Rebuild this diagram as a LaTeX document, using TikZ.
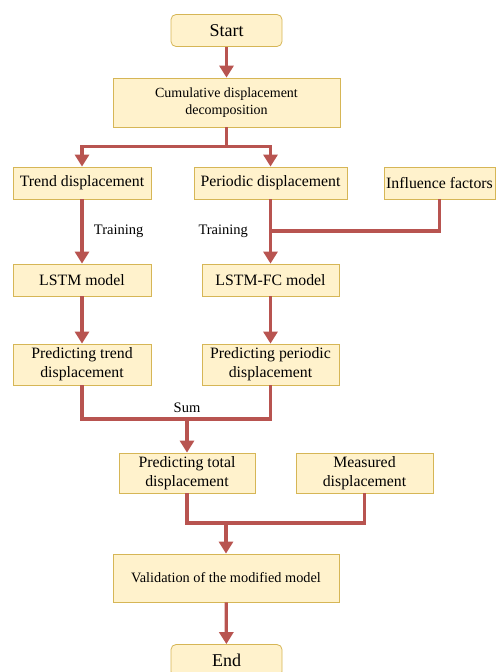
\documentclass[tikz,border=0pt]{standalone}
\usepackage{fontspec}
\setmainfont{Liberation Serif}
\usepackage{tikz}
\usetikzlibrary{arrows.meta, positioning}

\definecolor{boxfill}{HTML}{FFF2CC}
\definecolor{boxline}{HTML}{D6B656}
\definecolor{flowred}{HTML}{B85450}

\begin{document}
\begin{tikzpicture}[
        x=1pt, y=-1pt,
        >={Triangle[length=12pt,width=14pt]},
        every node/.style={font=\fontsize{14.5}{17}\selectfont},
        box/.style={draw=boxline, fill=boxfill, line width=0.8pt, inner sep=0pt, align=center,
            font=\fontsize{15.8}{19}\selectfont},
        term/.style={box, rounded corners=5pt, minimum width=111pt, minimum height=32pt,
            font=\fontsize{18}{20}\selectfont},
        flow/.style={draw=flowred, line width=3.2pt}
    ]
        \useasboundingbox (0,0) rectangle (496,672);

        \node[term] (start) at (226.5,30.5) {Start};
        \node[box, minimum width=227pt, minimum height=49pt, font=\fontsize{14}{17}\selectfont]
            (decomp) at (226.5,102.5) {Cumulative displacement\\decomposition};
        \node[box, minimum width=138pt, minimum height=32pt] (trend) at (82,183) {Trend displacement};
        \node[box, minimum width=153pt, minimum height=32pt] (periodic) at (270.5,183) {Periodic displacement};
        \node[box, minimum width=111pt, minimum height=32pt] (influence) at (439.5,183) {Influence factors};
        \node[box, minimum width=138pt, minimum height=32pt] (lstm) at (82,280) {LSTM model};
        \node[box, minimum width=137pt, minimum height=32pt] (lstmfc) at (270.5,280) {LSTM-FC model};
        \node[box, minimum width=138pt, minimum height=41pt] (predtrend) at (82,364.5) {Predicting trend\\displacement};
        \node[box, minimum width=137pt, minimum height=41pt] (predper) at (270.5,364.5) {Predicting periodic\\displacement};
        \node[box, minimum width=136pt, minimum height=40pt] (predtotal) at (187,473) {Predicting total\\displacement};
        \node[box, minimum width=137pt, minimum height=40pt] (measured) at (364.5,473) {Measured\\displacement};
        \node[box, minimum width=226pt, minimum height=48pt, font=\fontsize{14.3}{17}\selectfont]
            (valid) at (226,578) {Validation of the modified model};
        \node[term] (end) at (226.5,660.5) {End};

        \coordinate (fcjoin) at (270.5,231);
        \coordinate (sumjoin) at (187,419);
        \coordinate (valjoin) at (226,523);

        \draw[flow,->] (start) -- (decomp);
        \draw[flow,->] (decomp.south) -- ++(0,19) -| (trend.north);
        \draw[flow,->] (decomp.south) -- ++(0,19) -| (periodic.north);
        \draw[flow,->] (trend) -- node[right=7pt] (trainl) {Training} (lstm);
        \draw[flow,->] (periodic) -- (lstmfc);
        \node[left=19pt of fcjoin] (trainr) {Training};
        \draw[flow] (influence.south) |- (fcjoin);
        \draw[flow,->] (lstm) -- (predtrend);
        \draw[flow,->] (lstmfc) -- (predper);
        \draw[flow] (predtrend.south) |- (sumjoin) -| (predper.south);
        \node[above=3pt of sumjoin] (sumlbl) {Sum};
        \draw[flow,->] (sumjoin) -- (predtotal);
        \draw[flow] (predtotal.south) |- (valjoin) -| (measured.south);
        \draw[flow,->] (valjoin) -- (valid);
        \draw[flow,->] (valid) -- (end);
    \end{tikzpicture}
\end{document}
